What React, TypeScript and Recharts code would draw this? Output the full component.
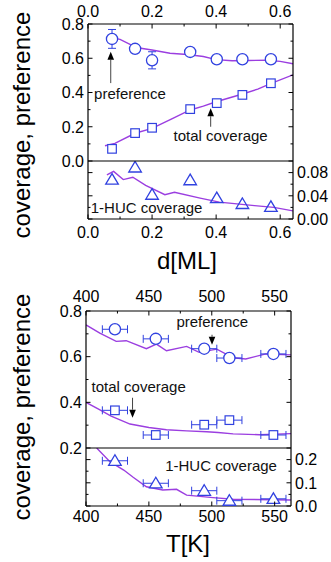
import React from "react";
import {
  ComposedChart,
  Line,
  Scatter,
  XAxis,
  YAxis,
  ErrorBar,
  ReferenceDot,
  ReferenceLine,
} from "recharts";

const BLUE = "#3142e0";
const PURPLE = "#9b3ee0";
const FONT = "'Liberation Sans', Arial, Helvetica, sans-serif";

// ---------- upper figure: film thickness d [ML]
const dTicks = [0, 0.1, 0.2, 0.3, 0.4, 0.5, 0.6];
const covTicksD = [0, 0.1, 0.2, 0.3, 0.4, 0.5, 0.6, 0.7, 0.8];
const hucTicksD = [0, 0.02, 0.04, 0.06, 0.08];

const dMeas = [0.075, 0.147, 0.2, 0.319, 0.402, 0.482, 0.571];
const prefD = [0.713, 0.655, 0.588, 0.637, 0.594, 0.594, 0.594];
const prefDErr = [0.055, 0.008, 0.05, 0.008, 0.012, 0.012, 0.012];
const covD = [0.071, 0.163, 0.194, 0.303, 0.338, 0.386, 0.454];
const covDErr = [0.012, 0.012, 0.012, 0.012, 0.012, 0.012, 0.012];
const hucD = [0.068, 0.089, 0.042, 0.067, 0.036, 0.026, 0.021];

const prefFitDx = [0.06, 0.1, 0.136, 0.16, 0.2, 0.256, 0.31, 0.36, 0.4, 0.45, 0.5, 0.56, 0.6, 0.64];
const prefFitDy = [0.725, 0.71, 0.677, 0.66, 0.648, 0.629, 0.622, 0.61, 0.592, 0.585, 0.587, 0.588, 0.582, 0.568];
const covFitDx = [0.053, 0.084, 0.147, 0.2, 0.26, 0.319, 0.36, 0.4, 0.44, 0.48, 0.53, 0.57, 0.64];
const covFitDy = [0.089, 0.103, 0.162, 0.19, 0.245, 0.298, 0.32, 0.346, 0.368, 0.39, 0.42, 0.452, 0.503];
const hucFitDx = [0.059, 0.08, 0.11, 0.14, 0.18, 0.24, 0.27, 0.35, 0.41, 0.52, 0.58, 0.64];
const hucFitDy = [0.076, 0.082, 0.068, 0.072, 0.058, 0.042, 0.046, 0.036, 0.029, 0.023, 0.02, 0.014];

// ---------- lower figure: temperature T [K]
const tTicks = [400, 425, 450, 475, 500, 525, 550];
const covTicksT = [0.2, 0.3, 0.4, 0.5, 0.6, 0.7, 0.8];
const hucTicksT = [0, 0.05, 0.1, 0.15, 0.2];

const tMeas = [423, 455.5, 494, 514, 549];
const tErr = [10, 10, 10, 10, 10];
const prefT = [0.72, 0.678, 0.635, 0.594, 0.612];
const covT = [0.365, 0.257, 0.302, 0.322, 0.257];
const covTErr = [0.012, 0.012, 0.012, 0.012, 0.012];
const hucT = [0.195, 0.098, 0.066, 0.023, 0.031];

const prefFitTx = [400, 411, 424, 432, 448, 456, 464, 480, 490, 504, 517, 527, 543, 563];
const prefFitTy = [0.739, 0.703, 0.667, 0.67, 0.635, 0.655, 0.626, 0.645, 0.619, 0.633, 0.595, 0.59, 0.612, 0.608];
const covFitTx = [400, 410, 420, 435, 450, 464, 480, 496, 505, 517, 538, 563];
const covFitTy = [0.4, 0.37, 0.34, 0.305, 0.29, 0.28, 0.275, 0.271, 0.268, 0.262, 0.258, 0.263];
const hucFitTx = [408.5, 419, 430, 437.5, 448, 461, 472, 480, 501, 517, 563];
const hucFitTy = [0.25, 0.191, 0.155, 0.124, 0.083, 0.069, 0.072, 0.047, 0.036, 0.029, 0.026];

// annotations, in data units of their panel
const notesD = [
  { text: "preference", x: 0.131, y: 0.362 },
  { text: "total coverage", x: 0.414, y: 0.117 },
];
const noteHucD = { text: "1-HUC coverage", x: 0.183, y: 0.011 };
const arrowsD = [
  { x: 0.071, from: 0.455, to: 0.638 },
  { x: 0.383, from: 0.2, to: 0.308 },
];
const notesT = [
  { text: "preference", x: 500.4, y: 0.728 },
  { text: "total coverage", x: 441.9, y: 0.446 },
];
const noteHucT = { text: "1-HUC coverage", x: 507.4, y: 0.153 };
const arrowsT = [
  { x: 500.2, from: 0.696, to: 0.652 },
  { x: 437, from: 0.42, to: 0.333 },
];

const zip = (xs: number[], ys: number[], ex?: number[], ey?: number[]) =>
  xs.map((x, i) => ({ x, y: ys[i], ex: ex ? ex[i] : 0, ey: ey ? ey[i] : 0 }));

const isMajor = (v: number, step: number) => Math.abs(v / step - Math.round(v / step)) < 1e-6;

type Side = "left" | "right" | "top" | "bottom";

// inward tick marks (long on majors), labels only on majors
function ticker(side: Side, step: number, digits: number | null, gap: number) {
  return (p: any) => {
    const { x, y, payload } = p;
    const v = Number(payload.value);
    const major = isMajor(v, step);
    const len = major ? 4.5 : 2.5;
    const label = digits !== null && major ? v.toFixed(digits) : null;
    const ts = { fontSize: 16, fontFamily: FONT, fill: "#000" };
    let line;
    let text = null;
    if (side === "left") {
      line = <line x1={x} x2={x + len} y1={y} y2={y} stroke="#000" />;
      if (label) text = <text x={x - gap} y={y} dy="0.36em" textAnchor="end" {...ts}>{label}</text>;
    } else if (side === "right") {
      line = <line x1={x} x2={x - len} y1={y} y2={y} stroke="#000" />;
      if (label) text = <text x={x + gap} y={y} dy="0.36em" textAnchor="start" {...ts}>{label}</text>;
    } else if (side === "top") {
      line = <line x1={x} x2={x} y1={y} y2={y + len} stroke="#000" />;
      if (label) text = <text x={x} y={y - gap} textAnchor="middle" {...ts}>{label}</text>;
    } else {
      line = <line x1={x} x2={x} y1={y} y2={y - len} stroke="#000" />;
      if (label) text = <text x={x} y={y + gap} textAnchor="middle" {...ts}>{label}</text>;
    }
    return (
      <g>
        {line}
        {text}
      </g>
    );
  };
}

const ring = (fill: string, stroke: string) => (p: any) =>
  <circle cx={p.cx} cy={p.cy} r={5.6} fill={fill} stroke={stroke} strokeWidth={1.3} />;
const box = (fill: string, stroke: string) => (p: any) =>
  <rect x={p.cx - 4.3} y={p.cy - 4.3} width={8.6} height={8.6} fill={fill} stroke={stroke} strokeWidth={1.2} />;
const tri = (fill: string, stroke: string) => (p: any) =>
  <polygon
    points={`${p.cx},${p.cy - 6} ${p.cx - 6.3},${p.cy + 4.6} ${p.cx + 6.3},${p.cy + 4.6}`}
    fill={fill}
    stroke={stroke}
    strokeWidth={1.3}
  />;

const noteShape = (text: string) => (p: any) =>
  <text x={p.cx} y={p.cy} textAnchor="middle" fontSize={15} fontFamily={FONT} fill="#111">{text}</text>;

const arrow = (p: any) => {
  const { x1, y1, x2, y2 } = p;
  const d = y2 < y1 ? 1 : -1;
  const base = y2 + d * 8;
  return (
    <g>
      <line x1={x1} y1={y1} x2={x2} y2={base} stroke="#444" strokeWidth={1} />
      <polygon points={`${x2},${y2} ${x2 - 3.3},${base} ${x2 + 3.3},${base}`} fill="#000" />
    </g>
  );
};

const axisLine = { stroke: "#000", strokeWidth: 1.2 };
const margin = { top: 0, right: 0, bottom: 0, left: 0 };
// upper parts keep 10px below the plot so the lowest tick label is not clipped
const marginUpper = { top: 0, right: 0, bottom: 10, left: 0 };
const W = 331;

export default function App() {
  const dDom: [number, number] = [0, 0.64];
  const tDom: [number, number] = [400, 563];
  return (
    <div style={{ position: "absolute", left: 0, top: 0, width: W, height: 562, background: "#fff", fontFamily: FONT }}>
      {/* upper figure, upper part */}
      <div style={{ position: "absolute", left: 0, top: 0, zIndex: 2 }}>
        <ComposedChart width={W} height={171} margin={marginUpper}>
          <XAxis xAxisId="t" orientation="top" type="number" dataKey="x" domain={dDom} allowDataOverflow ticks={dTicks} interval={0} height={24} tickSize={0} tickMargin={0} tickLine={false} axisLine={axisLine} tick={ticker("top", 0.2, 1, 7)} />
          <XAxis xAxisId="b" orientation="bottom" mirror type="number" domain={dDom} allowDataOverflow tick={false} tickLine={false} axisLine={axisLine} />
          <YAxis yAxisId="l" orientation="left" type="number" domain={[0, 0.8]} allowDataOverflow ticks={covTicksD} interval={0} width={88} tickSize={0} tickMargin={0} tickLine={false} axisLine={axisLine} tick={ticker("left", 0.2, 1, 4)} />
          <YAxis yAxisId="r" orientation="right" type="number" domain={[0, 0.8]} allowDataOverflow ticks={covTicksD} interval={0} width={38} tickSize={0} tickMargin={0} tickLine={false} axisLine={axisLine} tick={ticker("right", 0.2, null, 4)} />
          <Line xAxisId="t" yAxisId="l" data={zip(prefFitDx, prefFitDy)} dataKey="y" type="linear" stroke={PURPLE} strokeWidth={1.4} dot={false} isAnimationActive={false} />
          <Line xAxisId="t" yAxisId="l" data={zip(covFitDx, covFitDy)} dataKey="y" type="linear" stroke={PURPLE} strokeWidth={1.4} dot={false} isAnimationActive={false} />
          <Scatter xAxisId="t" yAxisId="l" data={zip(dMeas, prefD)} dataKey="y" shape={ring("#fff", "none")} isAnimationActive={false} />
          <Scatter xAxisId="t" yAxisId="l" data={zip(dMeas, covD)} dataKey="y" shape={box("#fff", "none")} isAnimationActive={false} />
          <Scatter xAxisId="t" yAxisId="l" data={zip(dMeas, prefD, undefined, prefDErr)} dataKey="y" shape={ring("none", BLUE)} isAnimationActive={false}>
            <ErrorBar dataKey="ey" direction="y" width={4} stroke={BLUE} strokeWidth={1} isAnimationActive={false} />
          </Scatter>
          <Scatter xAxisId="t" yAxisId="l" data={zip(dMeas, covD, undefined, covDErr)} dataKey="y" shape={box("none", BLUE)} isAnimationActive={false}>
            <ErrorBar dataKey="ey" direction="y" width={3} stroke={BLUE} strokeWidth={1} isAnimationActive={false} />
          </Scatter>
          {arrowsD.map((a, i) => (
            <ReferenceLine key={"ad" + i} xAxisId="t" yAxisId="l" segment={[{ x: a.x, y: a.from }, { x: a.x, y: a.to }]} shape={arrow} />
          ))}
          {notesD.map((n, i) => (
            <ReferenceDot key={"nd" + i} xAxisId="t" yAxisId="l" x={n.x} y={n.y} r={0} shape={noteShape(n.text)} />
          ))}
        </ComposedChart>
      </div>

      {/* upper figure, 1-HUC part */}
      <div style={{ position: "absolute", left: 0, top: 161, zIndex: 1 }}>
        <ComposedChart width={W} height={98} margin={margin}>
          <XAxis xAxisId="b" orientation="bottom" type="number" dataKey="x" domain={dDom} allowDataOverflow ticks={dTicks} interval={0} height={40} tickSize={0} tickMargin={0} tickLine={false} axisLine={axisLine} tick={ticker("bottom", 0.2, 1, 18.5)} />
          <YAxis yAxisId="l" orientation="left" type="number" domain={[0, 0.1]} allowDataOverflow ticks={hucTicksD} interval={0} width={88} tickSize={0} tickMargin={0} tickLine={false} axisLine={axisLine} tick={ticker("left", 0.04, null, 4)} />
          <YAxis yAxisId="r" orientation="right" type="number" domain={[0, 0.1]} allowDataOverflow ticks={hucTicksD} interval={0} width={38} tickSize={0} tickMargin={0} tickLine={false} axisLine={axisLine} tick={ticker("right", 0.04, 2, 4)} />
          <Line xAxisId="b" yAxisId="r" data={zip(hucFitDx, hucFitDy)} dataKey="y" type="linear" stroke={PURPLE} strokeWidth={1.4} dot={false} isAnimationActive={false} />
          <Scatter xAxisId="b" yAxisId="r" data={zip(dMeas, hucD)} dataKey="y" shape={tri("none", BLUE)} isAnimationActive={false} />
          <ReferenceDot xAxisId="b" yAxisId="r" x={noteHucD.x} y={noteHucD.y} r={0} shape={noteShape(noteHucD.text)} />
        </ComposedChart>
      </div>

      {/* lower figure, upper part */}
      <div style={{ position: "absolute", left: 0, top: 287, zIndex: 2 }}>
        <ComposedChart width={W} height={171} margin={marginUpper}>
          <XAxis xAxisId="t" orientation="top" type="number" dataKey="x" domain={tDom} allowDataOverflow ticks={tTicks} interval={0} height={24} tickSize={0} tickMargin={0} tickLine={false} axisLine={axisLine} tick={ticker("top", 50, 0, 9.5)} />
          <XAxis xAxisId="b" orientation="bottom" mirror type="number" domain={tDom} allowDataOverflow tick={false} tickLine={false} axisLine={axisLine} />
          <YAxis yAxisId="l" orientation="left" type="number" domain={[0.2, 0.8]} allowDataOverflow ticks={covTicksT} interval={0} width={86} tickSize={0} tickMargin={0} tickLine={false} axisLine={axisLine} tick={ticker("left", 0.2, 1, 4)} />
          <YAxis yAxisId="r" orientation="right" type="number" domain={[0.2, 0.8]} allowDataOverflow ticks={covTicksT} interval={0} width={40} tickSize={0} tickMargin={0} tickLine={false} axisLine={axisLine} tick={ticker("right", 0.2, null, 4)} />
          <Line xAxisId="t" yAxisId="l" data={zip(prefFitTx, prefFitTy)} dataKey="y" type="linear" stroke={PURPLE} strokeWidth={1.4} dot={false} isAnimationActive={false} />
          <Line xAxisId="t" yAxisId="l" data={zip(covFitTx, covFitTy)} dataKey="y" type="linear" stroke={PURPLE} strokeWidth={1.4} dot={false} isAnimationActive={false} />
          <Scatter xAxisId="t" yAxisId="l" data={zip(tMeas, prefT)} dataKey="y" shape={ring("#fff", "none")} isAnimationActive={false} />
          <Scatter xAxisId="t" yAxisId="l" data={zip(tMeas, covT)} dataKey="y" shape={box("#fff", "none")} isAnimationActive={false} />
          <Scatter xAxisId="t" yAxisId="l" data={zip(tMeas, prefT, tErr)} dataKey="y" shape={ring("none", BLUE)} isAnimationActive={false}>
            <ErrorBar dataKey="ex" direction="x" width={4} stroke={BLUE} strokeWidth={1} isAnimationActive={false} />
          </Scatter>
          <Scatter xAxisId="t" yAxisId="l" data={zip(tMeas, covT, tErr, covTErr)} dataKey="y" shape={box("none", BLUE)} isAnimationActive={false}>
            <ErrorBar dataKey="ex" direction="x" width={4} stroke={BLUE} strokeWidth={1} isAnimationActive={false} />
            <ErrorBar dataKey="ey" direction="y" width={3} stroke={BLUE} strokeWidth={1} isAnimationActive={false} />
          </Scatter>
          {arrowsT.map((a, i) => (
            <ReferenceLine key={"at" + i} xAxisId="t" yAxisId="l" segment={[{ x: a.x, y: a.from }, { x: a.x, y: a.to }]} shape={arrow} />
          ))}
          {notesT.map((n, i) => (
            <ReferenceDot key={"nt" + i} xAxisId="t" yAxisId="l" x={n.x} y={n.y} r={0} shape={noteShape(n.text)} />
          ))}
        </ComposedChart>
      </div>

      {/* lower figure, 1-HUC part */}
      <div style={{ position: "absolute", left: 0, top: 448, zIndex: 1 }}>
        <ComposedChart width={W} height={98} margin={margin}>
          <XAxis xAxisId="b" orientation="bottom" type="number" dataKey="x" domain={tDom} allowDataOverflow ticks={tTicks} interval={0} height={40} tickSize={0} tickMargin={0} tickLine={false} axisLine={axisLine} tick={ticker("bottom", 50, 0, 16)} />
          <YAxis yAxisId="l" orientation="left" type="number" domain={[0, 0.25]} allowDataOverflow ticks={hucTicksT} interval={0} width={86} tickSize={0} tickMargin={0} tickLine={false} axisLine={axisLine} tick={ticker("left", 0.1, null, 4)} />
          <YAxis yAxisId="r" orientation="right" type="number" domain={[0, 0.25]} allowDataOverflow ticks={hucTicksT} interval={0} width={40} tickSize={0} tickMargin={0} tickLine={false} axisLine={axisLine} tick={ticker("right", 0.1, 1, 4)} />
          <Line xAxisId="b" yAxisId="r" data={zip(hucFitTx, hucFitTy)} dataKey="y" type="linear" stroke={PURPLE} strokeWidth={1.4} dot={false} isAnimationActive={false} />
          <Scatter xAxisId="b" yAxisId="r" data={zip(tMeas, hucT)} dataKey="y" shape={tri("#fff", "none")} isAnimationActive={false} />
          <Scatter xAxisId="b" yAxisId="r" data={zip(tMeas, hucT, tErr)} dataKey="y" shape={tri("none", BLUE)} isAnimationActive={false}>
            <ErrorBar dataKey="ex" direction="x" width={4} stroke={BLUE} strokeWidth={1} isAnimationActive={false} />
          </Scatter>
          <ReferenceDot xAxisId="b" yAxisId="r" x={noteHucT.x} y={noteHucT.y} r={0} shape={noteShape(noteHucT.text)} />
        </ComposedChart>
      </div>

      {/* axis titles */}
      <svg width={W} height={562} style={{ position: "absolute", left: 0, top: 0, zIndex: 3, pointerEvents: "none" }}>
        <g fontFamily={FONT} fontSize={24} fill="#000" textAnchor="middle">
          <text transform="translate(30,125) rotate(-90)">coverage, preference</text>
          <text x={187} y={269}>d[ML]</text>
          <text transform="translate(30,407) rotate(-90)">coverage, preference</text>
          <text x={188} y={552}>T[K]</text>
        </g>
      </svg>
    </div>
  );
}
